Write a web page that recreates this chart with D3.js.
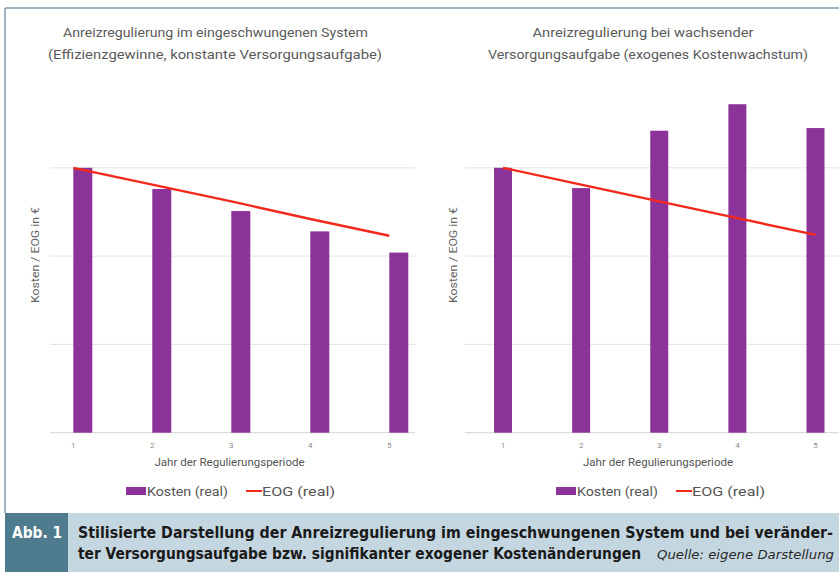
<!DOCTYPE html>
<html>
<head>
<meta charset="utf-8">
<script src="https://cdn.jsdelivr.net/npm/d3@7"></script>
<style>
  body { margin: 0; background: #fff; }
  text { font-family: Roboto, "Noto Sans", sans-serif; }
  .cap { font-family: "Liberation Sans Narrow", "DejaVu Sans Condensed", Roboto, sans-serif; }
</style>
</head>
<body>
<svg id="fig" width="839" height="572"></svg>
<script>
const years = ["1", "2", "3", "4", "5"];
const kostenLeft = [30, 27.6, 25.1, 22.8, 20.4];
const eogLeft = [30, 28.1, 26.2, 24.2, 22.3];
const kostenRight = [30, 27.7, 34.2, 37.2, 34.5];
const eogRight = [30, 28.1, 26.2, 24.3, 22.4];
const yTicks = [0, 10, 20, 30];

const titlesLeft = ["Anreizregulierung im eingeschwungenen System", "(Effizienzgewinne, konstante Versorgungsaufgabe)"];
const titlesRight = ["Anreizregulierung bei wachsender", "Versorgungsaufgabe (exogenes Kostenwachstum)"];
const xTitle = "Jahr der Regulierungsperiode";
const yTitle = "Kosten / EOG in €";
const legendNames = ["Kosten (real)", "EOG (real)"];

const purple = "#8c3399";
const red = "#f5281c";

const svg = d3.select("#fig");

// frame
svg.append("line").attr("x1", 5).attr("x2", 839).attr("y1", 8).attr("y2", 8)
  .attr("stroke", "#7f9bab").attr("stroke-width", 1.5);
svg.append("line").attr("x1", 5).attr("x2", 5).attr("y1", 8).attr("y2", 513)
  .attr("stroke", "#7f9bab").attr("stroke-width", 1.5);

const yScale = d3.scaleLinear().domain([0, 40]).range([432.7, 79.5]);

function panel(cfg) {
  const g = svg.append("g");
  const xScale = d3.scalePoint().domain(years).range(cfg.xRange);
  const bw = cfg.barWidth;

  // gridlines
  g.append("g").selectAll("line").data(yTicks).join("line")
    .attr("x1", cfg.gridX[0]).attr("x2", cfg.gridX[1])
    .attr("y1", d => yScale(d)).attr("y2", d => yScale(d))
    .attr("stroke", d => d === 0 ? "#d4d4d4" : "#e4e4e4")
    .attr("stroke-width", 1);

  // bars
  g.append("g").selectAll("rect").data(cfg.kosten).join("rect")
    .attr("x", (d, i) => xScale(years[i]) + cfg.barOffset)
    .attr("y", d => yScale(d))
    .attr("width", bw)
    .attr("height", d => yScale(0) - yScale(d))
    .attr("fill", purple);

  // EOG line
  const line = d3.line()
    .x((d, i) => xScale(years[i]))
    .y(d => yScale(d));
  g.append("path").datum(cfg.eog)
    .attr("d", line)
    .attr("fill", "none")
    .attr("stroke", red)
    .attr("stroke-width", 2.4);

  // x tick labels
  g.append("g").selectAll("text").data(years).join("text")
    .attr("x", d => xScale(d))
    .attr("y", 448)
    .attr("text-anchor", "middle")
    .attr("font-size", 8)
    .attr("fill", "#8a8a8a")
    .text(d => d);

  // axis titles
  g.append("text")
    .attr("x", cfg.xTitleX).attr("y", 466)
    .attr("text-anchor", "middle")
    .attr("font-size", 11.5)
    .attr("fill", "#555")
    .text(xTitle);
  g.append("text")
    .attr("transform", `translate(${cfg.yTitleX},255) rotate(-90)`)
    .attr("text-anchor", "middle")
    .attr("font-size", 11)
    .attr("fill", "#666")
    .attr("textLength", 96)
    .attr("lengthAdjust", "spacingAndGlyphs")
    .text(yTitle);

  // chart titles
  cfg.titles.forEach((t, i) => {
    g.append("text")
      .attr("x", cfg.titleX[i]).attr("y", 37 + i * 21.5)
      .attr("text-anchor", "middle")
      .attr("font-size", 12.5)
      .attr("fill", "#5a5a5a")
      .attr("textLength", cfg.titleLen[i])
      .attr("lengthAdjust", "spacingAndGlyphs")
      .text(t);
  });

  // legend
  const lg = g.append("g").attr("transform", `translate(${cfg.legendX},491)`);
  lg.append("rect").attr("x", 0).attr("y", -4).attr("width", 20).attr("height", 8).attr("fill", purple);
  lg.append("text").attr("x", 21).attr("y", 5).attr("font-size", 13.5).attr("fill", "#555")
    .attr("textLength", 81).attr("lengthAdjust", "spacingAndGlyphs").text(legendNames[0]);
  lg.append("line").attr("x1", 120).attr("x2", 136).attr("y1", 0).attr("y2", 0)
    .attr("stroke", red).attr("stroke-width", 2);
  lg.append("text").attr("x", 136).attr("y", 5).attr("font-size", 13.5).attr("fill", "#555")
    .attr("textLength", 73).attr("lengthAdjust", "spacingAndGlyphs").text(legendNames[1]);
}

panel({
  xRange: [73.3, 389.3], barWidth: 19, barOffset: 0,
  kosten: kostenLeft, eog: eogLeft, gridX: [50, 415],
  xTitleX: 229.5, yTitleX: 39,
  titles: titlesLeft, titleX: [215.5, 215], titleLen: [305, 334],
  legendX: 126
});

panel({
  xRange: [503, 815.5], barWidth: 18, barOffset: -9,
  kosten: kostenRight, eog: eogRight, gridX: [465, 839],
  xTitleX: 658, yTitleX: 457,
  titles: titlesRight, titleX: [643, 648], titleLen: [221, 320],
  legendX: 556
});

// caption band
svg.append("rect").attr("x", 5).attr("y", 513).attr("width", 834).attr("height", 59).attr("fill", "#c4d6e0");
svg.append("rect").attr("x", 5).attr("y", 513).attr("width", 63).attr("height", 59).attr("fill", "#4f7b8f");

function capText(x, y, size, len, str, opts) {
  const t = svg.append("text").attr("class", "cap")
    .attr("transform", `translate(${x},${y}) scale(1,1.14)`)
    .attr("font-size", size)
    .attr("fill", opts.fill)
    .attr("textLength", len)
    .attr("lengthAdjust", "spacingAndGlyphs")
    .text(str);
  if (opts.bold) t.attr("font-weight", "bold");
  if (opts.italic) t.attr("font-style", "italic");
  return t;
}

capText(12, 538, 14.5, 50, "Abb. 1", { fill: "#fff", bold: true });
capText(78, 538, 14.5, 755, "Stilisierte Darstellung der Anreizregulierung im eingeschwungenen System und bei veränder-", { fill: "#1a1a1a", bold: true });
capText(78, 559, 14.5, 563, "ter Versorgungsaufgabe bzw. signifikanter exogener Kostenänderungen", { fill: "#1a1a1a", bold: true });
capText(657, 559, 10.5, 177, "Quelle: eigene Darstellung", { fill: "#2a2a2a", italic: true });
</script>
</body>
</html>
